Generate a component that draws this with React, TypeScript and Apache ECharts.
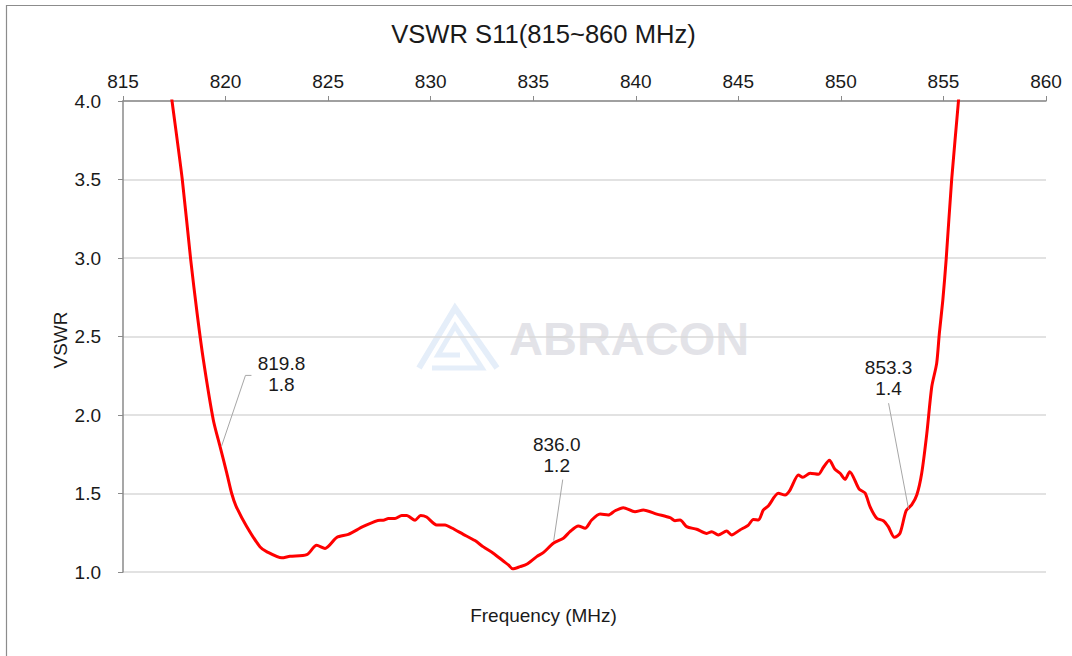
import React, { useEffect, useRef } from "react";
import * as echarts from "echarts";

const freq = [
  817.3, 817.39, 817.89, 818.3, 818.62, 818.92, 819.4, 819.73, 820.06, 820.3, 820.51, 821.03, 821.68, 822.0,
  822.74, 823.14, 823.96, 824.44, 824.85, 825.42, 825.99, 826.72, 827.53, 827.69, 827.94, 828.26, 828.59,
  828.83, 829.24, 829.51, 829.8, 830.29, 830.7, 831.03, 831.59, 832.16, 832.57, 833.05, 833.54, 833.79, 834.0,
  834.36, 834.68, 835.17, 835.49, 835.98, 836.47, 836.79, 837.2, 837.53, 837.85, 838.26, 838.66, 838.99,
  839.39, 839.96, 840.37, 841.02, 841.67, 841.91, 842.16, 842.48, 842.97, 843.46, 843.7, 844.02, 844.43,
  844.67, 845.08, 845.49, 845.73, 845.98, 846.22, 846.46, 846.95, 847.28, 847.52, 847.93, 848.14, 848.5,
  848.9, 849.15, 849.44, 849.71, 849.96, 850.2, 850.43, 850.89, 851.18, 851.42, 851.75, 852.07, 852.31,
  852.61, 852.88, 853.18, 853.45, 853.7, 853.94, 854.19, 854.43, 854.67, 854.8, 854.97, 855.13, 855.4,
  855.73, 855.8,
];
const vswr = [
  4.09, 4.0, 3.5, 2.99, 2.64, 2.35, 1.97, 1.8, 1.63, 1.5, 1.42, 1.29, 1.16, 1.13,
  1.09, 1.1, 1.11, 1.17, 1.15, 1.22, 1.24, 1.29, 1.33, 1.33, 1.34, 1.34, 1.36,
  1.36, 1.33, 1.36, 1.35, 1.3, 1.3, 1.28, 1.24, 1.2, 1.16, 1.12, 1.07, 1.045, 1.02,
  1.034, 1.049, 1.098, 1.123, 1.183, 1.215, 1.257, 1.293, 1.278, 1.331, 1.369, 1.363, 1.39,
  1.41, 1.384, 1.395, 1.369, 1.346, 1.327, 1.331, 1.289, 1.272, 1.246, 1.257, 1.236, 1.261,
  1.236, 1.268, 1.299, 1.335, 1.331, 1.395, 1.42, 1.501, 1.49, 1.522, 1.618, 1.603, 1.629,
  1.622, 1.667, 1.711, 1.654, 1.629, 1.59, 1.639, 1.528, 1.503, 1.416, 1.342, 1.327, 1.289,
  1.221, 1.246, 1.39, 1.427, 1.49, 1.629, 1.883, 2.18, 2.329, 2.52, 2.732, 2.987, 3.497,
  3.996, 4.1,
];

const annotFreq = [819.8, 836.0, 853.3];
const annotVswr = [1.8, 1.2, 1.4];

// label layout offsets (px) relative to the annotated point
const annotLayout = [
  { line: [[0, 0], [24, -71], [30, -71]], text: [60, -72] },
  { line: [[0, 0], [9, -61]], text: [3, -86] },
  { line: [[0, 0], [-20, -106]], text: [-20, -131] },
];

const TITLE = "VSWR S11(815~860 MHz)";
const X_NAME = "Frequency (MHz)";
const Y_NAME = "VSWR";
const FONT = "'Liberation Sans', Arial, sans-serif";

export default function App() {
  const ref = useRef<HTMLDivElement>(null);
  useEffect(() => {
    if (!ref.current) return;
    const chart = echarts.init(ref.current, null, { renderer: "svg" });
    const axisGray = "#8a8a8a";
    chart.setOption({
      animation: false,
      backgroundColor: "#ffffff",
      textStyle: { fontFamily: FONT },
      grid: { left: 123, right: 26, top: 101, bottom: 84, containLabel: false },
      xAxis: {
        type: "value",
        position: "top",
        min: 815,
        max: 860,
        interval: 5,
        axisLine: { show: true, lineStyle: { color: axisGray, width: 1.5 } },
        axisTick: { show: true, inside: false, length: 5, lineStyle: { color: axisGray } },
        axisLabel: { color: "#1a1a1a", fontSize: 19, fontFamily: FONT, margin: 10 },
        splitLine: { show: false },
      },
      yAxis: {
        type: "value",
        min: 1,
        max: 4,
        interval: 0.5,
        axisLine: { show: true, lineStyle: { color: axisGray, width: 1.5 } },
        axisTick: { show: true, inside: false, length: 5, lineStyle: { color: axisGray } },
        axisLabel: {
          color: "#1a1a1a",
          fontSize: 19,
          fontFamily: FONT,
          margin: 22,
          formatter: (v: number) => v.toFixed(1),
        },
        splitLine: { show: true, lineStyle: { color: "#d9d9d9", width: 1.5 } },
      },
      series: [
        {
          type: "line",
          data: freq.map((f, i) => [f, vswr[i]]),
          showSymbol: false,
          smooth: 0.25,
          clip: true,
          lineStyle: { color: "#ff0000", width: 3 },
          z: 3,
        },
      ],
    });

    const pts = annotFreq.map((f, i) => chart.convertToPixel({ seriesIndex: 0 }, [f, annotVswr[i]]) as number[]);
    const graphics: any[] = [
      {
        type: "rect",
        shape: { x: 6.5, y: 5.5, width: 1200, height: 800 },
        style: { fill: "none", stroke: "#8c8c8c", lineWidth: 1.2 },
        z: -20,
        silent: true,
      },
      {
        type: "text",
        x: 543.5,
        y: 34,
        style: {
          text: TITLE,
          font: `25.6px ${FONT}`,
          fill: "#1a1a1a",
          textAlign: "center",
          textVerticalAlign: "middle",
        },
      },
      {
        type: "text",
        x: 543.5,
        y: 615,
        style: {
          text: X_NAME,
          font: `19px ${FONT}`,
          fill: "#1a1a1a",
          textAlign: "center",
          textVerticalAlign: "middle",
        },
      },
      {
        type: "text",
        x: 60,
        y: 340,
        rotation: Math.PI / 2,
        style: {
          text: Y_NAME,
          font: `19px ${FONT}`,
          fill: "#1a1a1a",
          textAlign: "center",
          textVerticalAlign: "middle",
        },
      },
      // watermark
      {
        type: "polyline",
        shape: { points: [[419, 368], [455, 308], [497, 368]] },
        style: { fill: "none", stroke: "rgba(190,212,240,0.4)", lineWidth: 6, lineJoin: "miter" },
        z: -10,
        silent: true,
      },
      {
        type: "polyline",
        shape: { points: [[432, 368], [482, 368], [455, 326], [438, 355], [460, 355]] },
        style: { fill: "none", stroke: "rgba(190,212,240,0.4)", lineWidth: 5, lineJoin: "miter" },
        z: -10,
        silent: true,
      },
      {
        type: "text",
        x: 509,
        y: 338,
        style: {
          text: "ABRACON",
          font: `bold 47px ${FONT}`,
          fill: "rgba(200,200,210,0.5)",
          textAlign: "left",
          textVerticalAlign: "middle",
        },
        z: -10,
        silent: true,
      },
    ];
    pts.forEach((p, i) => {
      const lay = annotLayout[i];
      graphics.push({
        type: "polyline",
        shape: { points: lay.line.map(([dx, dy]) => [p[0] + dx, p[1] + dy]) },
        style: { fill: "none", stroke: "#a6a6a6", lineWidth: 1 },
        z: 5,
      });
      graphics.push({
        type: "text",
        x: p[0] + lay.text[0],
        y: p[1] + lay.text[1],
        style: {
          text: `${annotFreq[i].toFixed(1)}\n${annotVswr[i].toFixed(1)}`,
          font: `19px ${FONT}`,
          lineHeight: 21,
          fill: "#1a1a1a",
          textAlign: "center",
          textVerticalAlign: "middle",
        },
        z: 5,
      });
    });
    chart.setOption({ graphic: graphics });

    return () => chart.dispose();
  }, []);

  return (
    <div
      ref={ref}
      style={{ position: "fixed", left: 0, top: 0, width: 1072, height: 656, background: "#fff" }}
    />
  );
}
